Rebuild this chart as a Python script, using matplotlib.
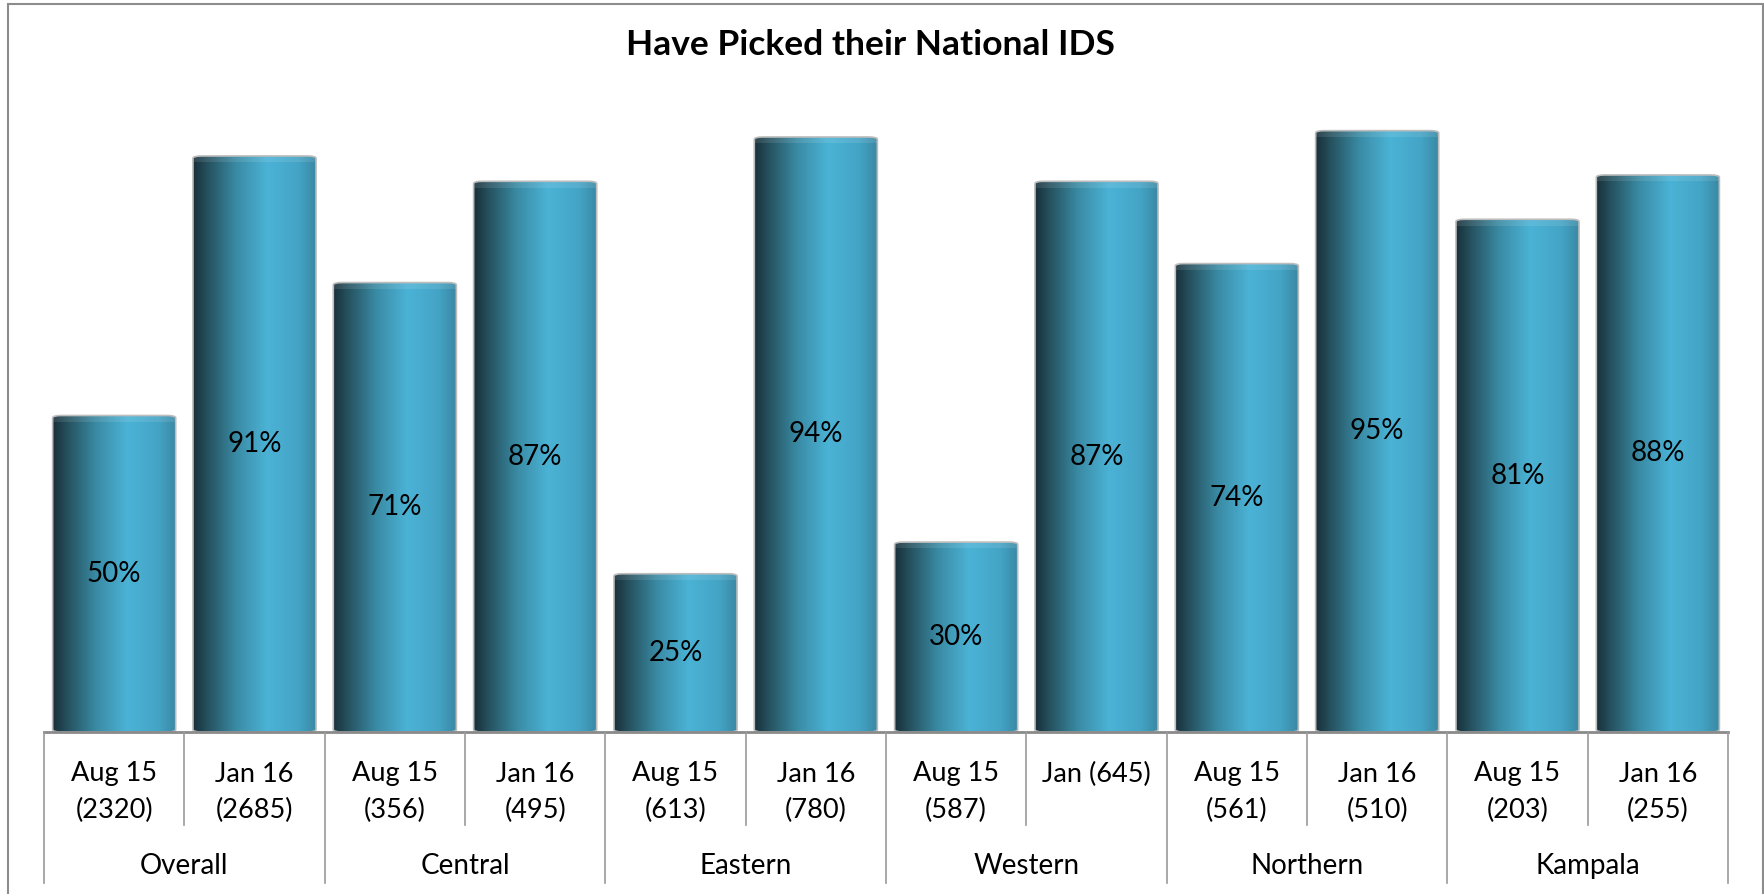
import numpy as np
import matplotlib.pyplot as plt
from matplotlib.patches import FancyBboxPatch, Rectangle
from matplotlib.lines import Line2D
from matplotlib.transforms import blended_transform_factory
from matplotlib.colors import LinearSegmentedColormap

plt.rcParams['font.family'] = ['Lato', 'DejaVu Sans']

title = 'Have Picked their National IDS'
regions = ['Overall', 'Central', 'Eastern', 'Western', 'Northern', 'Kampala']
wave_labels = ['Aug 15\n(2320)', 'Jan 16\n(2685)',
               'Aug 15\n(356)', 'Jan 16\n(495)',
               'Aug 15\n(613)', 'Jan 16\n(780)',
               'Aug 15\n(587)', 'Jan (645)',
               'Aug 15\n(561)', 'Jan 16\n(510)',
               'Aug 15\n(203)', 'Jan 16\n(255)']
values = [50, 91, 71, 87, 25, 94, 30, 87, 74, 95, 81, 88]

W, H = 1764, 894
fig = plt.figure(figsize=(W / 100, H / 100), dpi=100)
ax = fig.add_axes([44 / W, 1 - 732 / H, (1728 - 44) / W, (732 - 99) / H])
ax.set_xlim(0, len(values))
ax.set_ylim(0, 100)
ax.axis('off')

# cylinder-like horizontal shading
cyl = LinearSegmentedColormap.from_list('cyl', [
    (0.00, '#18303a'),
    (0.12, '#26525f'),
    (0.35, '#3a8ba5'),
    (0.60, '#4bb3d6'),
    (0.85, '#44a4c6'),
    (1.00, '#3a87a2'),
])
grad = np.tile(np.linspace(0, 1, 256), (2, 1))

bar_w = 0.877
for i, v in enumerate(values):
    x0 = i + (1 - bar_w) / 2
    clip = FancyBboxPatch((x0, 0), bar_w, v,
                          boxstyle='round,pad=0,rounding_size=0.06',
                          mutation_aspect=6.3, fc='none', ec='#bdbdbd',
                          lw=1.2, zorder=3)
    ax.add_patch(clip)
    im = ax.imshow(grad, cmap=cyl, extent=(x0, x0 + bar_w, 0, v),
                   aspect='auto', zorder=2, interpolation='bicubic')
    im.set_clip_path(clip)
    # light cap at the top of the cylinder
    cap = Rectangle((x0, v - 1.0), bar_w, 1.0, fc='white', alpha=0.10,
                    ec='none', zorder=2.5)
    ax.add_patch(cap)
    cap.set_clip_path(clip)
    ax.text(i + 0.5, v / 2, f'{v}%', ha='center', va='center',
            fontsize=20, color='black', zorder=4)

ax.set_xlim(0, len(values))
ax.set_ylim(0, 100)

tr = blended_transform_factory(ax.transData, fig.transFigure)


def fy(p):
    return 1 - p / H


# baseline
fig.add_artist(Line2D([0, len(values)], [fy(732), fy(732)], transform=tr,
                      color='#8a8a8a', lw=2))
for k in range(len(values) + 1):
    bottom = 883 if k % 2 == 0 else 825
    fig.add_artist(Line2D([k, k], [fy(732), fy(bottom)], transform=tr,
                          color='#9a9a9a', lw=1.2))

for i, lab in enumerate(wave_labels):
    lines = lab.split('\n')
    for j, line in enumerate(lines):
        fig.text(i + 0.5, fy(774 + 36 * j), line, transform=tr,
                 ha='center', va='center', fontsize=19.5)

for g, reg in enumerate(regions):
    fig.text(2 * g + 1, fy(866), reg, transform=tr,
             ha='center', va='center', fontsize=20)

fig.text(870 / W, fy(45), title, ha='center', va='center',
         fontsize=25.5, fontweight='bold')

# chart border
fig.add_artist(Rectangle((8 / W, -0.01), (1763 - 8) / W, 1.01 - 4 / H,
                         transform=fig.transFigure, fill=False,
                         ec='#8c8c8c', lw=1.5))

fig.savefig('out.png', dpi=100)
